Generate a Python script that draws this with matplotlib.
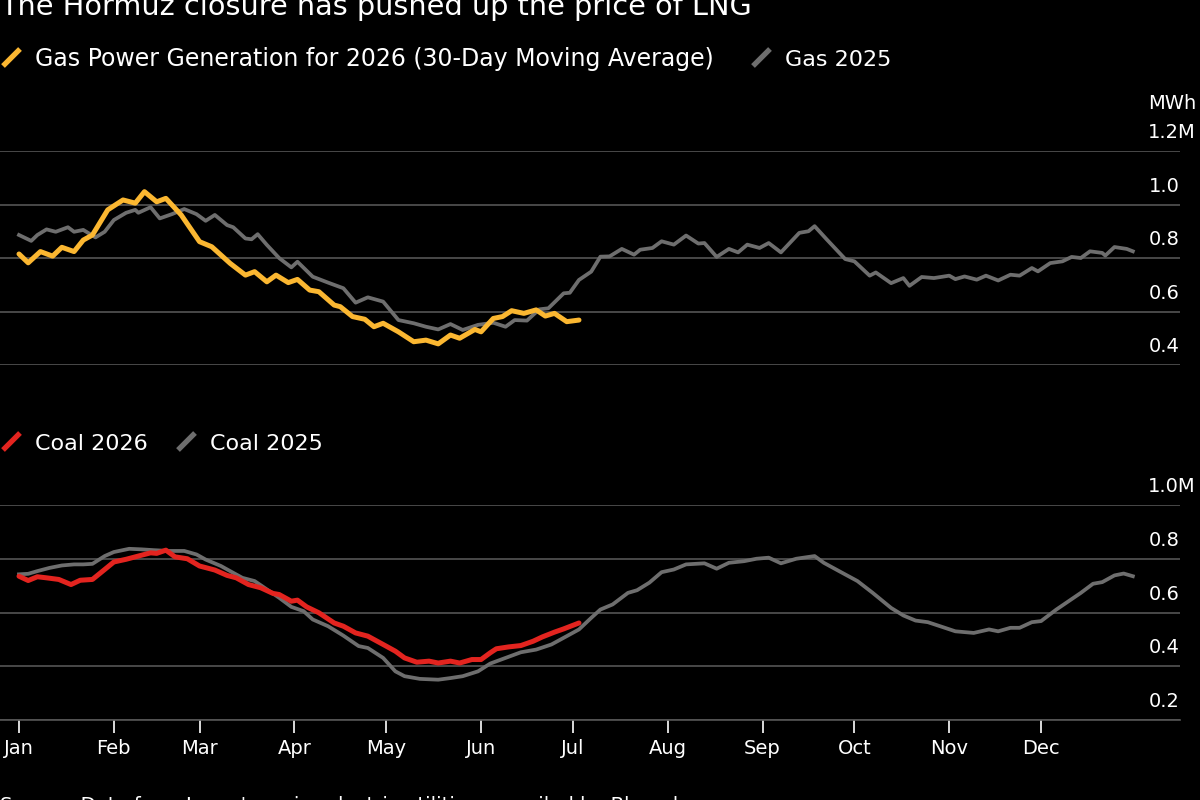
import matplotlib
matplotlib.use("Agg")
import matplotlib.pyplot as plt
from matplotlib.lines import Line2D
from matplotlib.transforms import blended_transform_factory, offset_copy

# day of year (0 = Jan 1) and generation in million MWh
gas_2026_days = [0, 3, 7, 11, 14, 18, 21, 24, 29, 34, 38, 41, 45, 48, 53, 59, 63, 69, 74, 77,
                 81, 84, 88, 91, 95, 98, 103, 105, 109, 113, 116, 119, 124, 129, 133, 137, 141,
                 144, 149, 151, 155, 158, 161, 165, 169, 172, 175, 179, 183]
gas_2026 = [0.815, 0.782, 0.824, 0.807, 0.84, 0.824, 0.867, 0.886, 0.98, 1.017, 1.005, 1.048,
            1.01, 1.023, 0.961, 0.861, 0.842, 0.78, 0.736, 0.749, 0.711, 0.736, 0.708, 0.72,
            0.68, 0.674, 0.624, 0.618, 0.581, 0.571, 0.543, 0.556, 0.524, 0.487, 0.493, 0.479,
            0.512, 0.5, 0.533, 0.524, 0.574, 0.581, 0.603, 0.593, 0.606, 0.583, 0.593, 0.562,
            0.568]

gas_2025_days = [0, 4, 6, 9, 12, 16, 18, 21, 25, 28, 31, 35, 38, 39, 43, 46, 50, 54, 58, 61,
                 64, 68, 70, 74, 76, 78, 81, 85, 89, 91, 96, 101, 106, 110, 114, 119, 124, 129,
                 133, 137, 141, 145, 150, 155, 159, 162, 166, 170, 173, 178, 180, 183, 187, 190,
                 193, 197, 201, 203, 207, 210, 214, 218, 222, 224, 228, 232, 235, 238, 242, 245,
                 249, 255, 258, 260, 264, 270, 273, 278, 280, 285, 289, 291, 295, 299, 304, 306,
                 309, 313, 316, 320, 324, 327, 331, 333, 337, 341, 344, 347, 350, 354, 355, 358,
                 362, 364]
gas_2025 = [0.886, 0.864, 0.886, 0.907, 0.898, 0.915, 0.898, 0.905, 0.877, 0.898, 0.942, 0.969,
            0.98, 0.969, 0.99, 0.948, 0.964, 0.983, 0.964, 0.939, 0.961, 0.923, 0.915, 0.873,
            0.87, 0.889, 0.849, 0.8, 0.765, 0.786, 0.73, 0.708, 0.687, 0.633, 0.653, 0.637,
            0.568, 0.556, 0.543, 0.533, 0.553, 0.531, 0.55, 0.558, 0.543, 0.568, 0.566, 0.608,
            0.612, 0.668, 0.67, 0.718, 0.749, 0.805, 0.806, 0.834, 0.8125, 0.831, 0.8375,
            0.8625, 0.85, 0.884, 0.854, 0.856, 0.804, 0.834, 0.821, 0.85, 0.8375, 0.856, 0.821,
            0.894, 0.9, 0.919, 0.869, 0.796, 0.7875, 0.734, 0.746, 0.706, 0.725, 0.696, 0.729,
            0.725, 0.734, 0.721, 0.731, 0.719, 0.734, 0.716, 0.7375, 0.734, 0.7625, 0.75, 0.781,
            0.7875, 0.804, 0.8, 0.825, 0.819, 0.809, 0.841, 0.834, 0.825]

coal_2026_days = [0, 3, 6, 9, 13, 17, 20, 24, 28, 31, 35, 39, 43, 45, 48, 51, 55, 59, 64, 68,
                  71, 75, 79, 83, 85, 89, 91, 94, 98, 103, 106, 110, 114, 119, 123, 126, 130,
                  134, 137, 141, 144, 148, 151, 154, 156, 160, 164, 168, 171, 175, 178, 183]
coal_2026 = [0.735, 0.719, 0.733, 0.729, 0.723, 0.704, 0.72, 0.723, 0.76, 0.788, 0.798, 0.81,
             0.822, 0.82, 0.832, 0.807, 0.8, 0.773, 0.758, 0.738, 0.729, 0.704, 0.692, 0.671,
             0.667, 0.642, 0.646, 0.621, 0.599, 0.561, 0.549, 0.524, 0.512, 0.481, 0.456,
             0.431, 0.415, 0.419, 0.412, 0.419, 0.412, 0.425, 0.425, 0.45, 0.465, 0.472, 0.477,
             0.493, 0.509, 0.527, 0.539, 0.561]

coal_2025_days = [0, 3, 6, 10, 14, 18, 21, 24, 28, 31, 36, 40, 44, 49, 54, 58, 61, 66, 69, 73,
                  77, 81, 85, 89, 93, 96, 101, 106, 111, 114, 119, 123, 126, 131, 137, 141, 145,
                  150, 154, 159, 164, 169, 174, 179, 183, 187, 190, 194, 199, 202, 206, 210, 214,
                  218, 224, 228, 232, 237, 241, 245, 249, 254, 260, 263, 268, 274, 279, 285, 289,
                  293, 297, 301, 306, 312, 317, 320, 324, 327, 331, 334, 339, 343, 347, 351, 354,
                  358, 361, 364]
coal_2025 = [0.742, 0.744, 0.754, 0.766, 0.775, 0.779, 0.779, 0.781, 0.81, 0.825, 0.837, 0.835,
             0.832, 0.829, 0.829, 0.816, 0.797, 0.773, 0.754, 0.729, 0.717, 0.686, 0.655, 0.621,
             0.605, 0.574, 0.549, 0.514, 0.475, 0.468, 0.431, 0.381, 0.363, 0.353, 0.35, 0.356,
             0.363, 0.381, 0.41, 0.431, 0.452, 0.462, 0.481, 0.512, 0.537, 0.58, 0.611, 0.63,
             0.673, 0.683, 0.711, 0.75, 0.76, 0.779, 0.783, 0.763, 0.785, 0.791, 0.8, 0.804,
             0.783, 0.8, 0.81, 0.785, 0.754, 0.717, 0.673, 0.617, 0.589, 0.57, 0.564, 0.549,
             0.53, 0.524, 0.537, 0.53, 0.543, 0.543, 0.564, 0.568, 0.611, 0.642, 0.673, 0.707,
             0.713, 0.738, 0.745, 0.735]

month_days = [0, 31, 59, 90, 120, 151, 181, 212, 243, 273, 304, 334]
month_labels = ['Jan', 'Feb', 'Mar', 'Apr', 'May', 'Jun', 'Jul', 'Aug', 'Sep', 'Oct', 'Nov', 'Dec']
gas_ticks = [0.4, 0.6, 0.8, 1.0, 1.2]
coal_ticks = [0.2, 0.4, 0.6, 0.8, 1.0]

YELLOW = '#fbb731'
RED = '#e3241f'
GRAY = '#6e6e6e'
GRID = '#555555'

W, H = 1200, 800
fig = plt.figure(figsize=(12, 8), dpi=100, facecolor='black')

# axes boxes in pixels: left, top, right, bottom
def px_axes(l, t, r, b):
    return fig.add_axes([l / W, 1 - b / H, (r - l) / W, (b - t) / H])

ax1 = px_axes(0, 151, 1180, 365)
ax2 = px_axes(0, 505, 1180, 720)

xlim = (-19 / 3.06, (1180 - 19) / 3.06)

for ax, ticks in [(ax1, gas_ticks), (ax2, coal_ticks)]:
    ax.set_facecolor('black')
    ax.set_xlim(*xlim)
    ax.set_ylim(ticks[0], ticks[-1])
    ax.set_yticks(ticks)
    ax.tick_params(axis='y', left=False, labelleft=False)
    ax.grid(axis='y', color=GRID, linewidth=1.2)
    ax.set_axisbelow(True)
    for s in ax.spines.values():
        s.set_visible(False)
    # y labels sit above their gridline at the right edge
    trans = offset_copy(blended_transform_factory(ax.transAxes, ax.transData),
                        fig=fig, y=9, units='dots')
    for i, t in enumerate(ticks):
        if i == len(ticks) - 1:
            ax.text(1196 / 1180, t, '%.1fM' % t, transform=trans, ha='right', va='bottom',
                    color='white', fontsize=14)
        else:
            ax.text(1.0, t, '%.1f' % t, transform=trans, ha='right', va='bottom',
                    color='white', fontsize=14)

ax1.tick_params(axis='x', bottom=False, labelbottom=False)
ax2.set_xticks(month_days)
ax2.set_xticklabels(month_labels)
ax2.tick_params(axis='x', colors='white', length=9, width=1.2, labelsize=14, pad=5)
ax2.spines['bottom'].set_visible(True)
ax2.spines['bottom'].set_color(GRID)
ax2.spines['bottom'].set_linewidth(1.2)

ax1.plot(gas_2025_days, gas_2025, color=GRAY, linewidth=2.7, solid_joinstyle='round')
ax1.plot(gas_2026_days, gas_2026, color=YELLOW, linewidth=3.6, solid_joinstyle='round',
         solid_capstyle='round')
ax2.plot(coal_2025_days, coal_2025, color=GRAY, linewidth=2.7, solid_joinstyle='round')
ax2.plot(coal_2026_days, coal_2026, color=RED, linewidth=3.6, solid_joinstyle='round',
         solid_capstyle='round')

# unit label
fig.text(1196 / W, 1 - 109 / H, 'MWh', ha='right', va='baseline', color='white', fontsize=14)

# title (cut off at the top) and source (cut off at the bottom), as in the reference
fig.text(0, 1 - 15 / H, 'The Hormuz closure has pushed up the price of LNG',
         ha='left', va='baseline', color='white', fontsize=20.7)
fig.text(0, 1 - 811 / H, "Source: Data from Japan's major electric utilities compiled by Bloomberg",
         ha='left', va='baseline', color='white', fontsize=14.2)

# legends with slash markers
def legend_item(x, baseline, color, label, size):
    fig.add_artist(Line2D([(x - 32) / W, (x - 15) / W],
                          [1 - baseline / H, 1 - (baseline - 17) / H],
                          transform=fig.transFigure, color=color, linewidth=3.8,
                          solid_capstyle='butt'))
    fig.text(x / W, 1 - baseline / H, label, ha='left', va='baseline',
             color='white', fontsize=size)

legend_item(35, 66, YELLOW, 'Gas Power Generation for 2026 (30-Day Moving Average)', 17)
legend_item(785, 66, GRAY, 'Gas 2025', 16)
legend_item(35, 450, RED, 'Coal 2026', 16)
legend_item(210, 450, GRAY, 'Coal 2025', 16)

fig.savefig('out.png', dpi=100, facecolor='black')
